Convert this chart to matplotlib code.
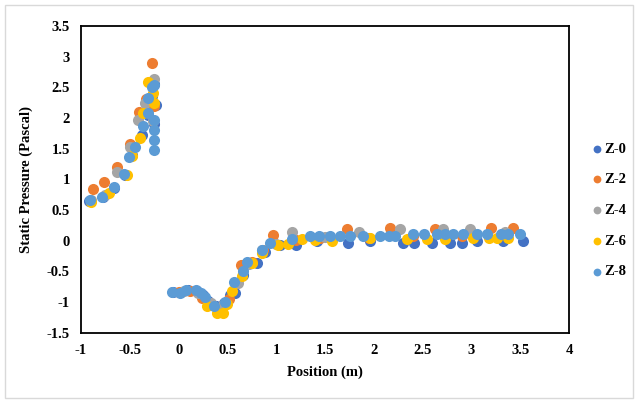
import matplotlib
matplotlib.use("Agg")
import matplotlib.pyplot as plt
from matplotlib.patches import Rectangle

# data
z0_x = [-0.92, -0.78, -0.66, -0.55, -0.48, -0.38, -0.31, -0.27, -0.23, -0.25, -0.25,
        -0.06, 0.02, 0.10, 0.19, 0.25, 0.30, 0.38, 0.46, 0.53, 0.58, 0.66, 0.72, 0.80,
        0.88, 1.04, 1.20, 1.42, 1.74, 1.96, 2.30, 2.41, 2.60, 2.78, 2.90, 3.06, 3.32, 3.53]
z0_y = [0.64, 0.72, 0.86, 1.07, 1.40, 1.72, 2.05, 2.35, 2.21, 2.55, 1.90,
        -0.84, -0.84, -0.80, -0.82, -0.88, -0.98, -1.06, -1.02, -0.88, -0.85, -0.55, -0.36, -0.36,
        -0.18, -0.07, -0.07, -0.01, -0.03, -0.01, -0.03, -0.03, -0.03, -0.03, -0.03, -0.01, -0.01, 0.00]

z2_x = [-0.88, -0.76, -0.63, -0.50, -0.41, -0.33, -0.27, -0.25, 0.00, 0.12, 0.24, 0.41,
        0.52, 0.64, 0.75, 0.86, 0.97, 1.20, 1.45, 1.72, 1.95, 2.17, 2.40, 2.63, 2.90, 3.20, 3.43]
z2_y = [0.85, 0.96, 1.20, 1.57, 2.10, 2.30, 2.90, 2.20, -0.84, -0.82, -0.94, -1.14,
        -0.95, -0.39, -0.35, -0.15, 0.10, 0.02, 0.05, 0.19, 0.05, 0.21, 0.07, 0.19, 0.08, 0.21, 0.21]

z4_x = [-0.90, -0.75, -0.63, -0.50, -0.42, -0.34, -0.25, -0.26, 0.05, 0.20, 0.33, 0.45,
        0.61, 0.72, 0.85, 1.00, 1.16, 1.50, 1.85, 2.27, 2.71, 2.98, 3.34]
z4_y = [0.66, 0.74, 1.12, 1.53, 1.97, 2.25, 2.64, 1.95, -0.82, -0.85, -1.02, -1.05,
        -0.68, -0.38, -0.15, -0.05, 0.15, 0.06, 0.15, 0.19, 0.19, 0.19, 0.15]

z6_x = [-0.90, -0.71, -0.53, -0.48, -0.40, -0.37, -0.31, -0.26, -0.25, 0.29, 0.39, 0.45,
        0.50, 0.55, 0.65, 0.75, 0.85, 1.02, 1.12, 1.26, 1.40, 1.57, 1.96, 2.34, 2.54,
        2.73, 3.02, 3.18, 3.26, 3.37]
z6_y = [0.63, 0.77, 1.07, 1.38, 1.68, 2.08, 2.59, 2.41, 2.25, -1.06, -1.17, -1.17,
        -1.03, -0.81, -0.58, -0.36, -0.20, -0.07, -0.05, 0.03, 0.02, 0.00, 0.05, 0.03, 0.03,
        0.03, 0.05, 0.05, 0.05, 0.05]

z8_x = [-0.91, -0.785, -0.66, -0.56, -0.51, -0.45, -0.36, -0.31, -0.31, -0.27, -0.25,
        -0.25, -0.25, -0.25, -0.25, -0.07, 0.01, 0.08, 0.18, 0.23, 0.27, 0.36, 0.47, 0.57,
        0.66, 0.70, 0.85, 0.94, 1.16, 1.35, 1.44, 1.55, 1.65, 1.76, 1.89, 2.06, 2.15, 2.22,
        2.40, 2.51, 2.65, 2.73, 2.81, 2.91, 3.06, 3.16, 3.30, 3.37, 3.50]
z8_y = [0.67, 0.72, 0.88, 1.09, 1.37, 1.52, 1.87, 2.33, 2.08, 2.50, 2.54,
        1.97, 1.81, 1.64, 1.48, -0.83, -0.85, -0.80, -0.80, -0.85, -0.91, -1.07, -1.00, -0.67,
        -0.50, -0.34, -0.15, -0.04, 0.03, 0.07, 0.08, 0.08, 0.07, 0.07, 0.07, 0.07, 0.07, 0.07,
        0.11, 0.11, 0.11, 0.11, 0.11, 0.11, 0.11, 0.11, 0.11, 0.11, 0.11]

series = [
    ("Z-0", z0_x, z0_y, "#4472C4"),
    ("Z-2", z2_x, z2_y, "#ED7D31"),
    ("Z-4", z4_x, z4_y, "#A5A5A5"),
    ("Z-6", z6_x, z6_y, "#FFC000"),
    ("Z-8", z8_x, z8_y, "#5B9BD5"),
]

plt.rcParams['font.family'] = ['Liberation Serif', 'DejaVu Serif']
plt.rcParams['font.weight'] = 'bold'

fig = plt.figure(figsize=(6.38, 4.03), dpi=100)
ax = fig.add_axes([0.127, 0.174, 0.765, 0.762])

for name, xs, ys, col in series:
    ax.scatter(xs, ys, s=64, color=col, label=name, linewidths=0, zorder=3)

ax.set_xlim(-1, 4)
ax.set_ylim(-1.5, 3.5)
ax.set_xticks([-1, -0.5, 0, 0.5, 1, 1.5, 2, 2.5, 3, 3.5, 4])
ax.set_xticklabels(['-1', '-0.5', '0', '0.5', '1', '1.5', '2', '2.5', '3', '3.5', '4'])
ax.set_yticks([-1.5, -1, -0.5, 0, 0.5, 1, 1.5, 2, 2.5, 3, 3.5])
ax.set_yticklabels(['-1.5', '-1', '-0.5', '0', '0.5', '1', '1.5', '2', '2.5', '3', '3.5'])
ax.tick_params(length=0, labelsize=10.5, pad=8)
for lab in ax.get_xticklabels() + ax.get_yticklabels():
    lab.set_fontweight('bold')
for sp in ax.spines.values():
    sp.set_linewidth(1.3)
    sp.set_color('black')

ax.set_xlabel('Position (m)', fontsize=10.5, fontweight='bold', labelpad=6)
ax.set_ylabel('Static Pressure (Pascal)', fontsize=10.5, fontweight='bold', labelpad=10)

ax.legend(loc='center left', bbox_to_anchor=(0.903, 0.478), bbox_transform=fig.transFigure,
          frameon=False, markerscale=0.7, handletextpad=0.05, handlelength=1.0,
          labelspacing=1.2, prop={'weight': 'bold', 'size': 10.5})

# light border round the whole chart, like the spreadsheet export
fig.patches.append(Rectangle((0.008, 0.012), 0.984, 0.976, transform=fig.transFigure,
                             fill=False, edgecolor='#D9D9D9', linewidth=1.0))

fig.savefig("out.png", dpi=100)
